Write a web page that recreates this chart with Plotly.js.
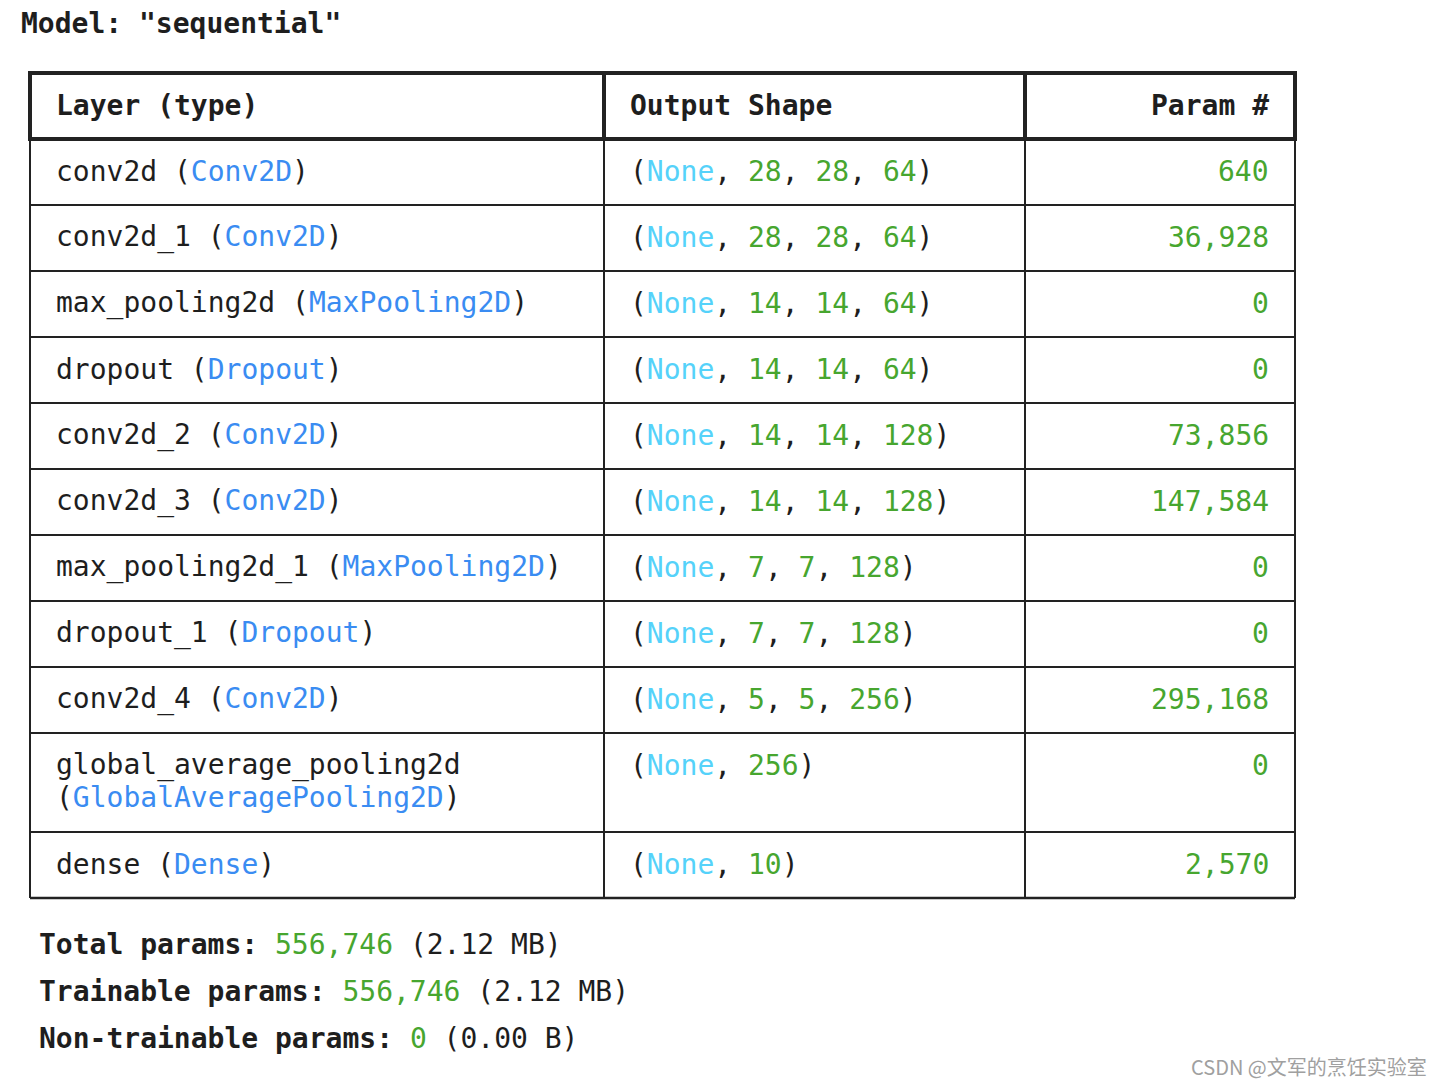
<!DOCTYPE html>
<html>
<head>
<meta charset="utf-8">
<script src="https://cdn.plot.ly/plotly-3.0.1.min.js"></script>
<style>html,body{margin:0;padding:0;background:#fff;}#chart{width:1442px;height:1086px;}</style>
</head>
<body>
<div id="chart"></div>
<script>
// ---- data ----
const modelName = 'sequential';
const headers = ['Layer (type)', 'Output Shape', 'Param #'];
const layerNames = ['conv2d', 'conv2d_1', 'max_pooling2d', 'dropout', 'conv2d_2', 'conv2d_3',
  'max_pooling2d_1', 'dropout_1', 'conv2d_4', 'global_average_pooling2d', 'dense'];
const layerTypes = ['Conv2D', 'Conv2D', 'MaxPooling2D', 'Dropout', 'Conv2D', 'Conv2D',
  'MaxPooling2D', 'Dropout', 'Conv2D', 'GlobalAveragePooling2D', 'Dense'];
const outputDims = [[28, 28, 64], [28, 28, 64], [14, 14, 64], [14, 14, 64], [14, 14, 128], [14, 14, 128],
  [7, 7, 128], [7, 7, 128], [5, 5, 256], [256], [10]];
const paramCounts = [640, 36928, 0, 0, 73856, 147584, 0, 0, 295168, 0, 2570];
const summaryLabels = ['Total params:', 'Trainable params:', 'Non-trainable params:'];
const summaryCounts = [556746, 556746, 0];
const summarySizes = ['2.12 MB', '2.12 MB', '0.00 B'];
const watermark = 'CSDN @文军的烹饪实验室';

// ---- styling ----
const MONO = 'DejaVu Sans Mono, monospace';
const FS = 28;
const BLACK = '#1e1e1e';
const BLUE = '#3a8cf2';
const CYAN = '#55d2fa';
const GREEN = '#47a62f';
const LINE = '#222222';
const fmt = n => n.toLocaleString('en-US');
const col = (c, t) => '<span style="color:' + c + '">' + t + '</span>';

const X0 = 30, X1 = 604, X2 = 1025, X3 = 1295;
const HEAD_TOP = 73, HEAD_BOT = 139;
const ROW_H = 66, LINE_H = 33, PAD = 25;

const annotations = [];
const shapes = [];
function txt(x, y, text, opts) {
  annotations.push(Object.assign({
    xref: 'x', yref: 'y', x: x, y: y, text: text, showarrow: false,
    xanchor: 'left', yanchor: 'middle', borderpad: 0,
    font: {family: MONO, size: FS, color: BLACK}
  }, opts || {}));
}
function line(x0, y0, x1, y1, w) {
  shapes.push({type: 'line', xref: 'x', yref: 'y', x0: x0, y0: y0, x1: x1, y1: y1,
    line: {color: LINE, width: w}});
}

// title
txt(20, 23, '<b>Model: "' + modelName + '"</b>');

// header
const headMid = (HEAD_TOP + HEAD_BOT) / 2 - 1;
txt(X0 + PAD, headMid, '<b>' + headers[0] + '</b>');
txt(X1 + PAD, headMid, '<b>' + headers[1] + '</b>');
txt(X3 - PAD, headMid, '<b>' + headers[2] + '</b>', {xanchor: 'right'});

// rows
let y = HEAD_BOT;
const rowBounds = [];
for (let i = 0; i < layerNames.length; i++) {
  const full = layerNames[i] + ' (' + layerTypes[i] + ')';
  const wrap = full.length > 31;
  const h = wrap ? ROW_H + LINE_H : ROW_H;
  const c1 = y + ROW_H / 2 - 1;
  if (wrap) {
    txt(X0 + PAD, c1, layerNames[i]);
    txt(X0 + PAD, c1 + LINE_H - 1, '(' + col(BLUE, layerTypes[i]) + ')');
  } else {
    txt(X0 + PAD, c1, layerNames[i] + ' (' + col(BLUE, layerTypes[i]) + ')');
  }
  const shape = '(' + [col(CYAN, 'None')].concat(outputDims[i].map(d => col(GREEN, d))).join(', ') + ')';
  txt(X1 + PAD, c1, shape);
  txt(X3 - PAD, c1, col(GREEN, fmt(paramCounts[i])), {xanchor: 'right'});
  y += h;
  rowBounds.push(y);
}
const TABLE_BOT = y;

// grid lines
rowBounds.slice(0, -1).forEach(b => line(X0, b, X3, b, 2));
line(X0, TABLE_BOT, X3, TABLE_BOT, 2.5);
[X0, X1, X2, X3].forEach(x => line(x, HEAD_BOT, x, TABLE_BOT, 2));
// header box (thick)
[X0, X1, X2, X3].forEach(x => line(x, HEAD_TOP - 2, x, HEAD_BOT + 2, 4));
line(X0 - 2, HEAD_TOP, X3 + 2, HEAD_TOP, 4);
line(X0 - 2, HEAD_BOT, X3 + 2, HEAD_BOT, 4);

// summary
const SUM_Y0 = 944, SUM_STEP = 47;
for (let i = 0; i < summaryLabels.length; i++) {
  txt(38, SUM_Y0 + i * SUM_STEP, '<b>' + summaryLabels[i] + '</b> ' + col(GREEN, fmt(summaryCounts[i])) + ' (' + summarySizes[i] + ')');
}

// watermark
txt(1428, 1066, watermark, {xanchor: 'right', font: {family: 'Noto Sans CJK SC, sans-serif', size: 20, color: '#a0a0a0'}});

const layout = {
  width: 1442, height: 1086,
  margin: {l: 0, r: 0, t: 0, b: 0},
  paper_bgcolor: '#ffffff', plot_bgcolor: '#ffffff',
  xaxis: {range: [0, 1442], visible: false, fixedrange: true},
  yaxis: {range: [1086, 0], visible: false, fixedrange: true},
  showlegend: false,
  shapes: shapes,
  annotations: annotations
};
Plotly.newPlot('chart', [], layout, {staticPlot: true, displayModeBar: false});
</script>
</body>
</html>
